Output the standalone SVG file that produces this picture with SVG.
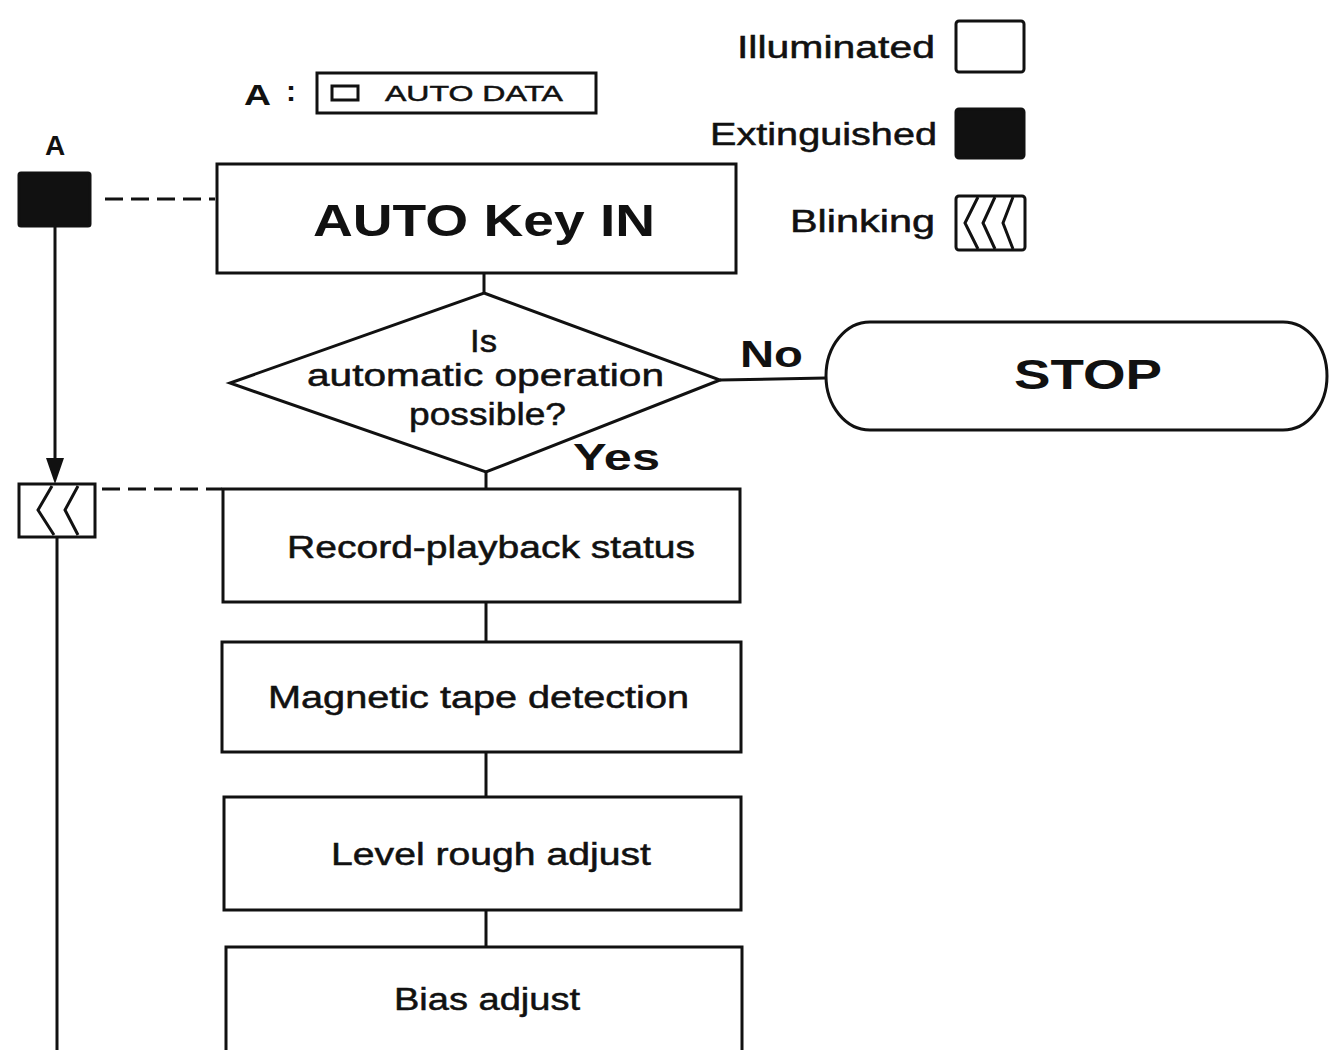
<svg xmlns="http://www.w3.org/2000/svg" width="1329" height="1050" viewBox="0 0 1329 1050">
<defs>
<style>
.box{fill:#fff;stroke:#111;stroke-width:3}
.blk{fill:#111;stroke:#111;stroke-width:3}
.ln{fill:none;stroke:#111;stroke-width:3}
.dash{fill:none;stroke:#111;stroke-width:3;stroke-dasharray:18,8}
.t{font-family:"Liberation Sans",Arial,sans-serif;fill:#111;font-size:31px;stroke:#111;stroke-width:0.5}
.b{font-family:"Liberation Sans",Arial,sans-serif;fill:#111;font-weight:bold}
</style>
</defs>
<rect width="1329" height="1050" fill="#fff"/>

<g id="legend">
<text class="t" x="737" y="58" textLength="198" lengthAdjust="spacingAndGlyphs">Illuminated</text>
<rect class="box" x="956" y="21" width="68" height="51" rx="3"/>
<text class="t" x="710" y="145" textLength="227" lengthAdjust="spacingAndGlyphs">Extinguished</text>
<rect class="blk" x="956" y="109" width="68" height="49" rx="3"/>
<text class="t" x="790" y="232" textLength="145" lengthAdjust="spacingAndGlyphs">Blinking</text>
<rect class="box" x="956" y="196" width="69" height="54" rx="3"/>
<path class="ln" d="M978,197 L965,223 L978,249 M995,197 L983,223 L995,249 M1013,197 L1003,223 L1013,249"/>
</g>

<g id="key-a">
<text class="b" x="244" y="105" font-size="30" textLength="27" lengthAdjust="spacingAndGlyphs">A</text>
<text class="b" x="286" y="101" font-size="30">:</text>
<rect class="box" x="317" y="73" width="279" height="40"/>
<rect x="332" y="86" width="26" height="14" fill="none" stroke="#111" stroke-width="3"/>
<text class="t" x="385" y="101" style="font-size:22px" textLength="178" lengthAdjust="spacingAndGlyphs">AUTO DATA</text>
</g>

<g id="indicator-a">
<text class="b" x="55" y="155" font-size="28" text-anchor="middle">A</text>
<rect class="blk" x="19" y="173" width="71" height="53" rx="2"/>
</g>

<g id="indicator-blink">
<rect class="box" x="19" y="484" width="76" height="53"/>
<path class="ln" d="M52,486 L38,510 L54,535 M78,486 L65,510 L78,535"/>
</g>

<g id="auto-key">
<rect class="box" x="217" y="164" width="519" height="109"/>
<text class="b" x="313" y="236" font-size="44" textLength="342" lengthAdjust="spacingAndGlyphs">AUTO Key IN</text>
</g>

<g id="decision">
<polygon class="box" points="484,293 720,380 486,472 230,383"/>
<text class="t" x="470" y="352" textLength="27" lengthAdjust="spacingAndGlyphs">Is</text>
<text class="t" x="307" y="386" textLength="357" lengthAdjust="spacingAndGlyphs">automatic operation</text>
<text class="t" x="409" y="425" textLength="157" lengthAdjust="spacingAndGlyphs">possible?</text>
</g>

<g id="stop">
<rect class="box" x="826" y="322" width="501" height="108" rx="44" ry="54"/>
<text class="b" x="1014" y="389" font-size="42" textLength="148" lengthAdjust="spacingAndGlyphs">STOP</text>
</g>

<g id="record">
<rect class="box" x="223" y="489" width="517" height="113"/>
<text class="t" x="287" y="558" textLength="408" lengthAdjust="spacingAndGlyphs">Record-playback status</text>
</g>

<g id="magnetic">
<rect class="box" x="222" y="642" width="519" height="110"/>
<text class="t" x="268" y="708" textLength="421" lengthAdjust="spacingAndGlyphs">Magnetic tape detection</text>
</g>

<g id="level">
<rect class="box" x="224" y="797" width="517" height="113"/>
<text class="t" x="331" y="865" textLength="320" lengthAdjust="spacingAndGlyphs">Level rough adjust</text>
</g>

<g id="bias">
<rect class="box" x="226" y="947" width="516" height="120"/>
<text class="t" x="394" y="1010" textLength="186" lengthAdjust="spacingAndGlyphs">Bias adjust</text>
</g>

<g id="connectors">
<line class="dash" x1="105" y1="199" x2="215" y2="199"/>
<line class="dash" x1="102" y1="489" x2="222" y2="489"/>
<line class="ln" x1="55" y1="226" x2="55" y2="460"/>
<path d="M46,458 L64,458 L55,484 z" fill="#111"/>
<line class="ln" x1="57" y1="537" x2="57" y2="1050"/>
<line class="ln" x1="484" y1="273" x2="484" y2="293"/>
<line class="ln" x1="720" y1="380" x2="826" y2="378"/>
<line class="ln" x1="486" y1="472" x2="486" y2="489"/>
<line class="ln" x1="486" y1="602" x2="486" y2="642"/>
<line class="ln" x1="486" y1="752" x2="486" y2="797"/>
<line class="ln" x1="486" y1="910" x2="486" y2="947"/>
<text class="b" x="740" y="367" font-size="36" textLength="63" lengthAdjust="spacingAndGlyphs">No</text>
<text class="b" x="573" y="470" font-size="36" textLength="87" lengthAdjust="spacingAndGlyphs">Yes</text>
</g>
</svg>
